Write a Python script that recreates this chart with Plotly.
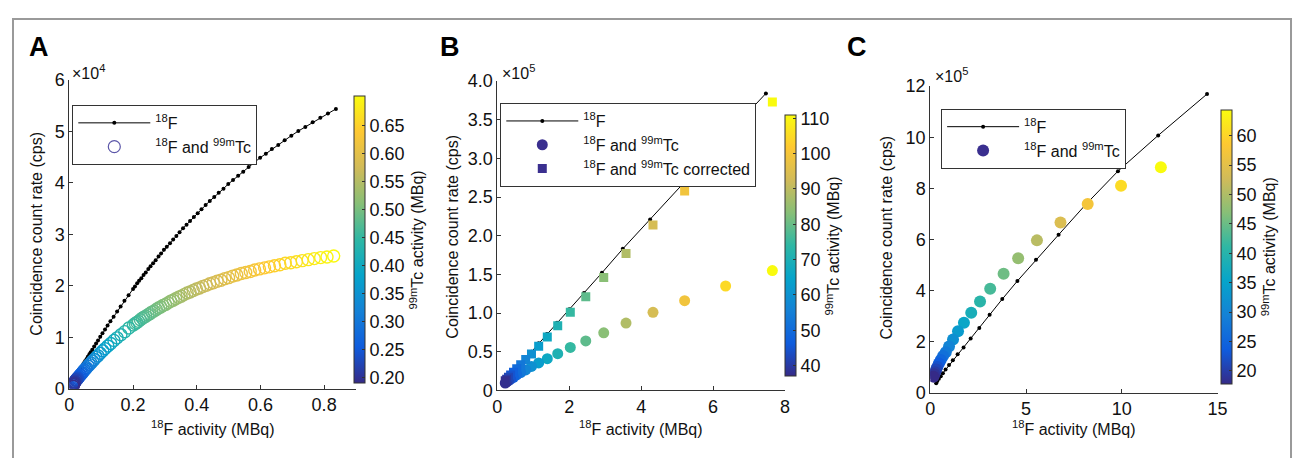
import plotly.graph_objects as go

# The page keeps the browser's default 8 px body margin, so the figure is 16 px
# smaller than the window and every reference pixel is shifted by 8 px.
W, H = 1294, 450
OFF = 8

# ---------------- Panel A data (count rate in units of 1e4 cps) ----------------
a_f18_x = [0.837,0.812,0.788,0.764,0.741,0.719,0.697,0.676,0.656,0.636,0.617,0.599,0.581,0.563,0.546,0.530,
           0.514,0.499,0.484,0.469,0.455,0.441,0.428,0.415,0.403,0.391,0.379,0.368,0.357,0.346,0.336,0.326,
           0.316,0.306,0.297,0.288,0.280,0.271,0.263,0.255,0.248,0.240,0.233,0.226,0.219,0.213,0.206,0.200,
           0.186,0.173,0.161,0.150,0.139,0.129,0.120,0.112,0.104,0.097,0.090,0.084,0.078,0.072,0.067,0.063,
           0.058,0.054,0.050,0.047,0.044,0.040,0.038,0.035,0.032,0.030,0.028,0.026,0.024,0.023,0.021,0.020]
a_f18_rate = [5.44,5.35,5.27,5.18,5.09,5.01,4.92,4.83,4.74,4.66,4.57,4.49,4.40,4.31,4.22,4.14,
              4.06,3.98,3.89,3.81,3.73,3.65,3.57,3.49,3.41,3.34,3.26,3.19,3.12,3.04,2.97,2.90,
              2.83,2.76,2.70,2.63,2.57,2.50,2.44,2.38,2.33,2.26,2.21,2.15,2.10,2.05,1.99,1.94,
              1.82,1.71,1.60,1.50,1.40,1.31,1.23,1.15,1.08,1.01,0.94,0.88,0.82,0.76,0.71,0.67,
              0.62,0.58,0.54,0.51,0.48,0.43,0.41,0.38,0.35,0.33,0.31,0.28,0.26,0.25,0.23,0.22]

a_mix_x = [0.830,0.809,0.789,0.769,0.750,0.731,0.713,0.695,0.678,0.661,0.644,0.628,0.613,0.597,0.582,0.568,
           0.554,0.540,0.526,0.513,0.500,0.488,0.476,0.464,0.452,0.441,0.430,0.419,0.409,0.399,0.389,0.379,
           0.370,0.360,0.351,0.343,0.334,0.326,0.318,0.310,0.302,0.294,0.287,0.280,0.273,0.266,0.259,0.253,
           0.247,0.240,0.234,0.229,0.223,0.217,0.212,0.207,0.201,
           0.187,0.174,0.162,0.150,0.140,0.130,0.121,0.112,0.105,0.097,0.090,0.084,0.078,0.073,0.068,0.063,
           0.059,0.054,0.051,0.047,0.044,0.041,0.038,0.035,0.033,0.031,0.028,0.026,0.025,0.023,0.021,0.020,
           0.018,0.017,0.016,0.015,0.014,0.013,0.012]
a_mix_rate = [2.58,2.56,2.55,2.53,2.51,2.49,2.47,2.45,2.44,2.41,2.39,2.37,2.35,2.33,2.31,2.28,
              2.26,2.24,2.21,2.19,2.16,2.14,2.11,2.09,2.06,2.04,2.01,1.99,1.96,1.94,1.91,1.88,
              1.86,1.83,1.80,1.78,1.75,1.72,1.70,1.67,1.64,1.62,1.59,1.57,1.54,1.51,1.49,1.46,
              1.44,1.41,1.39,1.37,1.34,1.31,1.29,1.27,1.24,
              1.18,1.11,1.05,0.99,0.94,0.88,0.83,0.78,0.74,0.69,0.64,0.61,0.57,0.54,0.50,0.47,
              0.44,0.41,0.39,0.36,0.34,0.31,0.29,0.27,0.26,0.24,0.22,0.20,0.20,0.18,0.17,0.16,
              0.14,0.13,0.12,0.11,0.10,0.08,0.05]
a_mix_tc = [0.700,0.695,0.689,0.684,0.679,0.674,0.668,0.663,0.658,0.653,0.648,0.643,0.638,0.633,0.628,0.623,
            0.619,0.614,0.609,0.605,0.600,0.595,0.591,0.586,0.582,0.577,0.573,0.568,0.564,0.560,0.555,0.551,
            0.547,0.543,0.538,0.534,0.530,0.526,0.522,0.518,0.514,0.510,0.506,0.502,0.498,0.494,0.491,0.487,
            0.483,0.479,0.476,0.472,0.468,0.465,0.461,0.458,0.454,
            0.444,0.434,0.425,0.415,0.406,0.397,0.389,0.380,0.372,0.364,0.356,0.348,0.340,0.333,0.325,0.318,
            0.311,0.304,0.298,0.291,0.285,0.279,0.272,0.266,0.260,0.255,0.249,0.244,0.238,0.233,0.228,0.223,
            0.218,0.213,0.209,0.204,0.200,0.195,0.191]

# ---------------- Panel B data (count rate in units of 1e5 cps) ----------------
b_f18_x = [7.47,6.22,5.14,4.25,3.49,2.91,2.41,2.00,1.66,1.38,1.15,0.95,0.79,0.66,0.55,0.46,0.38,0.32,0.27,0.22]
b_f18_rate = [3.84,3.22,2.66,2.21,1.83,1.52,1.26,1.05,0.875,0.73,0.61,0.50,0.42,0.35,0.29,0.245,0.20,0.17,0.145,0.12]
b_mix_x = [7.65,6.35,5.21,4.33,3.58,2.96,2.46,2.03,1.68,1.39,1.15,0.95,0.79,0.65,0.54,0.45,0.37,0.31,0.26,0.22]
b_mix_rate = [1.55,1.35,1.16,1.01,0.87,0.745,0.64,0.555,0.475,0.41,0.355,0.31,0.265,0.23,0.20,0.17,0.145,0.125,0.11,0.095]
b_corr_rate = [3.73,3.17,2.58,2.14,1.77,1.46,1.21,1.01,0.835,0.69,0.57,0.47,0.40,0.33,0.28,0.235,0.20,0.17,0.145,0.125]
b_mix_tc = [110.8,104.7,98.9,93.4,88.3,83.4,78.8,74.5,70.4,66.5,62.8,59.3,56.1,53.0,50.0,47.3,44.7,42.2,39.9,37.7]

# ---------------- Panel C data (count rate in units of 1e5 cps) ----------------
c_f18_x = [14.45,11.9,9.8,8.1,6.7,5.52,4.55,3.76,3.10,2.56,2.11,1.74,1.43,1.18,0.98,0.80,0.66,0.55,0.45,0.37,0.31]
c_f18_rate = [11.69,10.07,8.67,7.35,6.18,5.20,4.37,3.66,3.05,2.53,2.12,1.77,1.50,1.27,1.08,0.90,0.76,0.64,0.54,0.45,0.37]
c_mix_x = [12.04,9.96,8.22,6.80,5.57,4.59,3.83,3.13,2.60,2.14,1.76,1.45,1.19,0.98,0.81,0.67,0.55,0.45,0.37,0.31,0.25,0.21,0.17]
c_mix_rate = [8.82,8.10,7.38,6.66,5.96,5.26,4.65,4.07,3.57,3.13,2.73,2.40,2.08,1.80,1.58,1.43,1.28,1.14,1.00,0.90,0.80,0.72,0.62]
c_mix_tc = [64.4,60.7,57.3,54.0,50.9,48.0,45.3,42.7,40.3,38.0,35.8,33.8,31.8,30.0,28.3,26.7,25.2,23.7,22.4,21.1,19.9,18.8,17.7]

# ---------------- tick labels ----------------
a_xticks = [0, 0.2, 0.4, 0.6, 0.8]; a_xtext = ["0", "0.2", "0.4", "0.6", "0.8"]
a_yticks = [0, 1, 2, 3, 4, 5, 6]; a_ytext = ["0", "1", "2", "3", "4", "5", "6"]
a_cticks = [0.20, 0.25, 0.30, 0.35, 0.40, 0.45, 0.50, 0.55, 0.60, 0.65]
a_ctext = ["0.20", "0.25", "0.30", "0.35", "0.40", "0.45", "0.50", "0.55", "0.60", "0.65"]
b_xticks = [0, 2, 4, 6, 8]
b_yticks = [0, 0.5, 1.0, 1.5, 2.0, 2.5, 3.0, 3.5, 4.0]
b_ytext = ["0", "0.5", "1.0", "1.5", "2.0", "2.5", "3.0", "3.5", "4.0"]
b_cticks = [40, 50, 60, 70, 80, 90, 100, 110]
c_xticks = [0, 5, 10, 15]
c_yticks = [0, 2, 4, 6, 8, 10, 12]
c_cticks = [20, 25, 30, 35, 40, 45, 50, 55, 60]

PARULA = [[0.0, "#352a87"], [0.125, "#0f5cdd"], [0.25, "#1481d6"], [0.375, "#06a4ca"],
          [0.5, "#2eb7a4"], [0.625, "#87bf77"], [0.75, "#d1bb59"], [0.875, "#fec832"], [1.0, "#f9fb0e"]]

FONT = "Liberation Sans, Arial, sans-serif"
AX = "#333333"
TXT = "#111111"
LEG_BLUE = "#3a2f8f"
TICK_SIZE = 18
TITLE_SIZE = 16


def px(x):
    return (x - OFF) / W


def py(y):
    return (H - (y - OFF)) / H


fig = go.Figure()

# Panel A
fig.add_trace(go.Scatter(x=a_f18_x, y=a_f18_rate, mode="lines+markers", name="<sup>18</sup>F",
                         line=dict(color="black", width=1), marker=dict(color="black", size=4),
                         xaxis="x", yaxis="y", legend="legend"))
fig.add_trace(go.Scatter(x=a_mix_x, y=a_mix_rate, mode="markers", showlegend=False,
                         marker=dict(symbol="circle-open", size=12, color=a_mix_tc, coloraxis="coloraxis",
                                     line=dict(width=1.4)),
                         xaxis="x", yaxis="y"))
fig.add_trace(go.Scatter(x=[None], y=[None], mode="markers", name="<sup>18</sup>F and <sup>99m</sup>Tc",
                         marker=dict(symbol="circle-open", size=12, color="#5b56a8", line=dict(width=1.2)),
                         xaxis="x", yaxis="y", legend="legend"))

# Panel B
fig.add_trace(go.Scatter(x=b_f18_x, y=b_f18_rate, mode="lines+markers", name="<sup>18</sup>F",
                         line=dict(color="black", width=1), marker=dict(color="black", size=4),
                         xaxis="x2", yaxis="y2", legend="legend2"))
fig.add_trace(go.Scatter(x=b_mix_x, y=b_mix_rate, mode="markers", showlegend=False,
                         marker=dict(symbol="circle", size=11, color=b_mix_tc, coloraxis="coloraxis2"),
                         xaxis="x2", yaxis="y2"))
fig.add_trace(go.Scatter(x=b_mix_x, y=b_corr_rate, mode="markers", showlegend=False,
                         marker=dict(symbol="square", size=9, color=b_mix_tc, coloraxis="coloraxis2"),
                         xaxis="x2", yaxis="y2"))
fig.add_trace(go.Scatter(x=[None], y=[None], mode="markers", name="<sup>18</sup>F and <sup>99m</sup>Tc",
                         marker=dict(symbol="circle", size=11, color=LEG_BLUE),
                         xaxis="x2", yaxis="y2", legend="legend2"))
fig.add_trace(go.Scatter(x=[None], y=[None], mode="markers",
                         name="<sup>18</sup>F and <sup>99m</sup>Tc corrected",
                         marker=dict(symbol="square", size=9, color=LEG_BLUE),
                         xaxis="x2", yaxis="y2", legend="legend2"))

# Panel C
fig.add_trace(go.Scatter(x=c_f18_x, y=c_f18_rate, mode="lines+markers", name="<sup>18</sup>F",
                         line=dict(color="black", width=1), marker=dict(color="black", size=4),
                         xaxis="x3", yaxis="y3", legend="legend3"))
fig.add_trace(go.Scatter(x=c_mix_x, y=c_mix_rate, mode="markers", showlegend=False,
                         marker=dict(symbol="circle", size=12, color=c_mix_tc, coloraxis="coloraxis3"),
                         xaxis="x3", yaxis="y3"))
fig.add_trace(go.Scatter(x=[None], y=[None], mode="markers", name="<sup>18</sup>F and <sup>99m</sup>Tc",
                         marker=dict(symbol="circle", size=12, color=LEG_BLUE),
                         xaxis="x3", yaxis="y3", legend="legend3"))


def axis(domain, rng, tv, tt, anchor):
    return dict(domain=domain, range=rng, tickvals=tv, ticktext=tt, anchor=anchor,
                showline=True, linecolor=AX, linewidth=1, ticks="inside", ticklen=4, tickcolor=AX,
                showgrid=False, zeroline=False, mirror=False, fixedrange=True,
                tickfont=dict(family=FONT, size=TICK_SIZE, color=TXT))


def cbar(cmin, cmax, left, top, bottom, tv, tt):
    return dict(colorscale=PARULA, cmin=cmin, cmax=cmax, showscale=True,
                colorbar=dict(x=px(left), xanchor="left", y=py(top), yanchor="top",
                              len=bottom - top, lenmode="pixels", thickness=11, thicknessmode="pixels",
                              xpad=0, ypad=0, outlinewidth=1, outlinecolor=AX,
                              ticks="inside", ticklen=3, tickcolor=AX, tickvals=tv, ticktext=tt,
                              tickfont=dict(family=FONT, size=TICK_SIZE, color=TXT),
                              title=dict(text="<sup>99m</sup>Tc activity (MBq)", side="right",
                                         font=dict(family=FONT, size=TITLE_SIZE, color=TXT))))


def legend(left, top):
    return dict(x=px(left), y=py(top), xanchor="left", yanchor="top", bgcolor="white",
                bordercolor=AX, borderwidth=1, font=dict(family=FONT, size=16, color=TXT),
                itemwidth=72, tracegroupgap=0)


annotations = []
for letter, lx in [("A", 22), ("B", 438), ("C", 850)]:
    annotations.append(dict(text=letter, x=px(lx), y=py(38), xref="paper", yref="paper",
                            xanchor="left", yanchor="middle", showarrow=False,
                            font=dict(family=FONT, size=27, color="black", weight="bold")))
for txt, lx, ly in [("×10<sup>4</sup>", 66, 64), ("×10<sup>5</sup>", 501, 64), ("×10<sup>5</sup>", 939, 68)]:
    annotations.append(dict(text=txt, x=px(lx), y=py(ly), xref="paper", yref="paper",
                            xanchor="left", yanchor="middle", showarrow=False,
                            font=dict(family=FONT, size=16, color=TXT)))
for cx, cy in [(32, 234), (453, 237), (892, 238)]:
    annotations.append(dict(text="Coincidence count rate (cps)", x=px(cx), y=py(cy), xref="paper",
                            yref="paper", xanchor="center", yanchor="middle", textangle=-90,
                            showarrow=False, font=dict(family=FONT, size=TITLE_SIZE, color=TXT)))
for cx in [210, 643, 1081]:
    annotations.append(dict(text="<sup>18</sup>F activity (MBq)", x=px(cx), y=py(437), xref="paper",
                            yref="paper", xanchor="center", yanchor="middle", showarrow=False,
                            font=dict(family=FONT, size=TITLE_SIZE, color=TXT)))

fig.update_layout(
    width=W, height=H, margin=dict(l=0, r=0, t=0, b=0), paper_bgcolor="white", plot_bgcolor="white",
    font=dict(family=FONT, size=16, color=TXT),
    xaxis=axis([px(65), px(355)], [0, 0.9], a_xticks, a_xtext, "y"),
    yaxis=axis([py(396), py(73)], [0, 6], a_yticks, a_ytext, "x"),
    xaxis2=axis([px(498), px(789)], [0, 8], b_xticks, [str(v) for v in b_xticks], "y2"),
    yaxis2=axis([py(397.7), py(74)], [0, 4], b_yticks, b_ytext, "x2"),
    xaxis3=axis([px(936), px(1226.7)], [0, 15], c_xticks, [str(v) for v in c_xticks], "y3"),
    yaxis3=axis([py(400), py(79.3)], [0, 12], c_yticks, [str(v) for v in c_yticks], "x3"),
    coloraxis=cbar(0.189, 0.702, 353, 90, 377, a_cticks, a_ctext),
    coloraxis2=cbar(36.9, 110.8, 789, 110, 371, b_cticks, [str(v) for v in b_cticks]),
    coloraxis3=cbar(17.8, 64.4, 1230, 104, 378, c_cticks, [str(v) for v in c_cticks]),
    legend=legend(68, 99), legend2=legend(501, 97), legend3=legend(947, 103),
    annotations=annotations,
    shapes=[dict(type="rect", xref="paper", yref="paper", x0=px(8), x1=px(1301), y0=-0.2, y1=py(9),
                 line=dict(color="#9a9a9a", width=2), fillcolor="rgba(0,0,0,0)", layer="below")],
)

fig.write_html("out.html", config={"displayModeBar": False})
